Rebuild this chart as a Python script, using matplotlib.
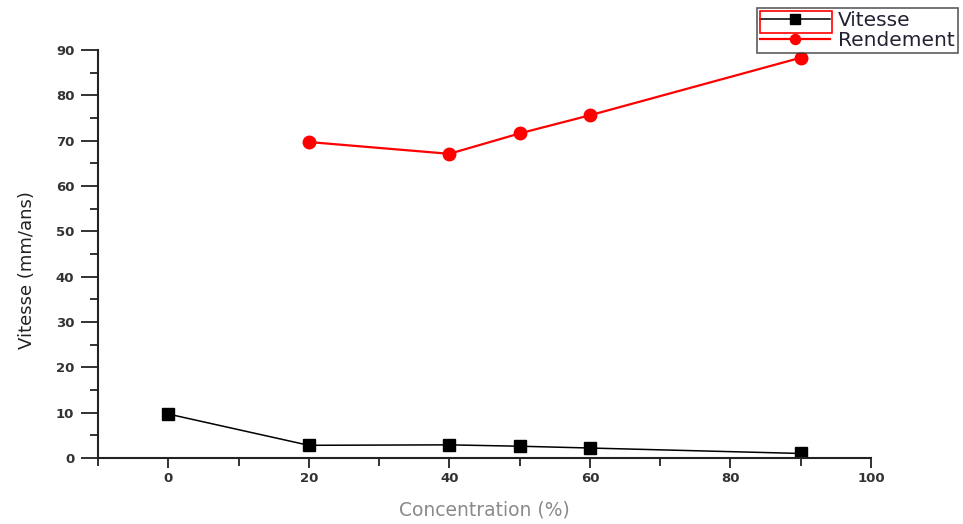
import matplotlib.pyplot as plt
import matplotlib.patches as patches
from matplotlib.ticker import MultipleLocator

plt.rcParams['font.family'] = ['DejaVu Sans']

conc_v = [0, 20, 40, 50, 60, 90]
vitesse = [9.7, 2.8, 2.9, 2.6, 2.2, 1.0]
conc_r = [20, 40, 50, 60, 90]
rendement = [69.7, 67.1, 71.6, 75.6, 88.3]

W, H = 963, 524
fig = plt.figure(figsize=(W / 100, H / 100), dpi=100)
ax = fig.add_axes([98 / W, 1 - 458 / H, (871 - 98) / W, (458 - 50) / H])

ax.plot(conc_v, vitesse, color="black", lw=1.1, marker="s", ms=9,
        label="Vitesse")
ax.plot(conc_r, rendement, color="red", lw=1.6, marker="o", ms=9,
        label="Rendement")

ax.set_xlim(-10, 100)
ax.set_ylim(0, 90)
ax.xaxis.set_major_locator(MultipleLocator(20))
ax.xaxis.set_minor_locator(MultipleLocator(10))
ax.yaxis.set_major_locator(MultipleLocator(10))
ax.yaxis.set_minor_locator(MultipleLocator(5))

for side in ["top", "right"]:
    ax.spines[side].set_visible(False)
for side in ["left", "bottom"]:
    ax.spines[side].set_linewidth(1.5)
    ax.spines[side].set_color("#222222")

ax.tick_params(which="major", length=12, width=1.3, color="#222222",
               labelsize=9.5, labelcolor="#333333", pad=5)
ax.tick_params(axis="x", which="major", length=7, pad=3)
ax.tick_params(which="minor", length=6, width=1.3, color="#222222")
for lab in ax.get_xticklabels() + ax.get_yticklabels():
    lab.set_fontweight("bold")

ax.set_xlabel("Concentration (%)", fontsize=13.5, color="#8a8a8a")
ax.xaxis.set_label_coords(0.5, -0.105)
ax.set_ylabel("Vitesse (mm/ans)", fontsize=13, color="#222222")
ax.yaxis.set_label_coords(-0.08, 0.46)

fs = 14.5
hl = 3.5
leg = fig.legend(loc="upper right", bbox_to_anchor=(958 / W, 1 - 8 / H),
                 fontsize=fs, frameon=True, fancybox=False, markerscale=0.8,
                 handlelength=hl, borderpad=0.15, labelspacing=0.05,
                 handletextpad=0.4, borderaxespad=0)
leg.get_frame().set_edgecolor("#333333")
leg.get_frame().set_linewidth(1.2)
for t in leg.get_texts():
    t.set_color("#222233")

# thin red frame around the first legend handle
fig.canvas.draw()
bb = leg.get_window_extent()
fpx = fs * 100 / 72
rect = patches.Rectangle(((bb.x0 + 3) / W, (bb.y1 - 25) / H),
                         (hl * fpx + 2) / W, 22 / H,
                         transform=fig.transFigure, fill=False,
                         edgecolor="red", lw=1.2, zorder=10)
fig.add_artist(rect)

fig.savefig("out.png", dpi=100)
